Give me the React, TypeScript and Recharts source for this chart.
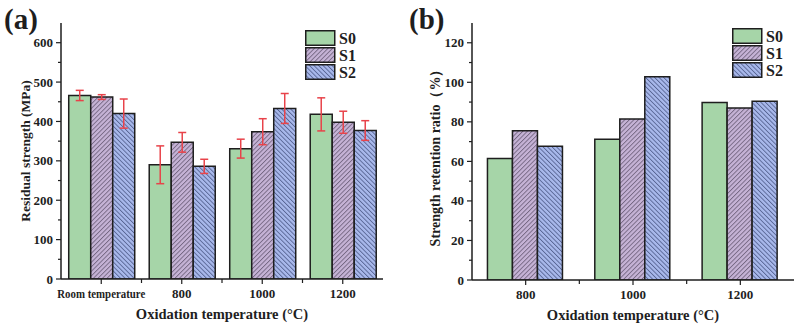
import React from 'react';
import { BarChart, Bar, XAxis, YAxis, ErrorBar, Legend } from 'recharts';

const categoriesA = ['Room temperature', '800', '1000', '1200'];
const s0A = [466, 290, 331, 418];
const s1A = [462, 347, 374, 398];
const s2A = [420, 286, 433, 377];
const e0A = [13, 48, 24, 42];
const e1A = [6, 25, 33, 28];
const e2A = [37, 18, 38, 25];
const ticksA = [0, 50, 100, 150, 200, 250, 300, 350, 400, 450, 500, 550, 600];

const categoriesB = ['800', '1000', '1200'];
const s0B = [61.5, 71.2, 89.8];
const s1B = [75.5, 81.4, 87.0];
const s2B = [67.7, 102.8, 90.4];
const ticksB = [0, 10, 20, 30, 40, 50, 60, 70, 80, 90, 100, 110, 120];

const seriesNames = ['S0', 'S1', 'S2'];

const dataA = categoriesA.map((c, i) => ({ cat: c, s0: s0A[i], s1: s1A[i], s2: s2A[i], e0: e0A[i], e1: e1A[i], e2: e2A[i] }));
const dataB = categoriesB.map((c, i) => ({ cat: c, s0: s0B[i], s1: s1B[i], s2: s2B[i] }));

const FONT = '"Liberation Serif", "Times New Roman", serif';
const INK = '#1e1e1e';
const C0 = '#a6d5a8';
const C1 = '#c6b3d6';
const C2 = '#a9b9ec';
const FILLS = [C0, 'url(#hatchS1)', 'url(#hatchS2)'];

const makeYTick = (major: number) => (props: any) => {
  const { x, y, payload } = props;
  const v = payload.value;
  const isMajor = v % major === 0;
  return (
    <g>
      <line x1={x} x2={x - (isMajor ? 5 : 3)} y1={y} y2={y} stroke={INK} strokeWidth={1.2} />
      {isMajor && (
        <text x={x - 8} y={y} dy="0.35em" textAnchor="end" fontFamily={FONT} fontWeight="bold" fontSize={13} fill={INK}>
          {v}
        </text>
      )}
    </g>
  );
};

const makeXTick = (band: number) => (props: any) => {
  const { x, y, payload, index } = props;
  const label = String(payload.value);
  const long = label.length > 6;
  return (
    <g>
      <line x1={x} x2={x} y1={y} y2={y + 5} stroke={INK} strokeWidth={1.2} />
      {index > 0 && <line x1={x - band / 2} x2={x - band / 2} y1={y} y2={y + 4} stroke={INK} strokeWidth={1.2} />}
      <text
        x={x}
        y={y + 14}
        dy="0.35em"
        textAnchor="middle"
        fontFamily={FONT}
        fontWeight="bold"
        fontSize={13}
        fill={INK}
        {...(long ? { textLength: 88, lengthAdjust: 'spacingAndGlyphs' } : {})}
      >
        {label}
      </text>
    </g>
  );
};

const YTitle = (props: any) => {
  const { viewBox, text, cx, cy, size } = props;
  const x = viewBox.x + cx;
  const y = viewBox.y + viewBox.height / 2 + (cy || 0);
  return (
    <text x={x} y={y} dy="0.35em" textAnchor="middle" transform={`rotate(-90, ${x}, ${y})`} fontFamily={FONT} fontWeight="bold" fontSize={size} fill={INK}>
      {text}
    </text>
  );
};

const XTitle = (props: any) => {
  const { viewBox, text } = props;
  const x = viewBox.x + viewBox.width / 2;
  const y = viewBox.y + 35;
  return (
    <text x={x} y={y} dy="0.35em" textAnchor="middle" fontFamily={FONT} fontWeight="bold" fontSize={14.5} fill={INK}>
      {text}
    </text>
  );
};

const LegendBox = () => (
  <svg width={62} height={52} style={{ display: 'block', overflow: 'visible' }}>
    {seriesNames.map((n, i) => (
      <g key={n}>
        <rect x={0.75} y={i * 17 + 0.75} width={29} height={14.5} fill={FILLS[i]} stroke={INK} strokeWidth={1.5} />
        <text x={34} y={i * 17 + 8} dy="0.35em" fontFamily={FONT} fontWeight="bold" fontSize={16} fill={INK}>
          {n}
        </text>
      </g>
    ))}
  </svg>
);

const Patterns = () => (
  <svg width={0} height={0} style={{ position: 'absolute', left: 0, top: 0 }}>
    <defs>
      <pattern id="hatchS1" patternUnits="userSpaceOnUse" width={3.2} height={3.2} patternTransform="rotate(45)">
        <rect x={0} y={0} width={3.2} height={3.2} fill={C1} />
        <line x1={0.5} y1={0} x2={0.5} y2={3.2} stroke="#5c4f68" strokeWidth={0.7} />
      </pattern>
      <pattern id="hatchS2" patternUnits="userSpaceOnUse" width={3.2} height={3.2} patternTransform="rotate(-45)">
        <rect x={0} y={0} width={3.2} height={3.2} fill={C2} />
        <line x1={0.5} y1={0} x2={0.5} y2={3.2} stroke="#3e4a78" strokeWidth={0.7} />
      </pattern>
    </defs>
  </svg>
);

const errColor = '#e8434a';

export default function App() {
  const bandA = 322 / categoriesA.length;
  const bandB = 322 / categoriesB.length;
  return (
    <div style={{ position: 'absolute', left: 0, top: 0, width: 800, height: 327, background: '#fff', fontFamily: FONT }}>
      <Patterns />
      <div style={{ position: 'absolute', left: 4, top: 2, fontFamily: FONT, fontWeight: 'bold', fontSize: 29, color: INK, lineHeight: '34px' }}>(a)</div>
      <div style={{ position: 'absolute', left: 409, top: 2, fontFamily: FONT, fontWeight: 'bold', fontSize: 29, color: INK, lineHeight: '34px' }}>(b)</div>

      <div style={{ position: 'absolute', left: 0, top: 0 }}>
        <BarChart width={400} height={327} data={dataA} margin={{ top: 23, right: 17, bottom: 8, left: 0 }} barCategoryGap="9.6%" barGap={0}>
          <XAxis dataKey="cat" height={40} tickSize={0} tickMargin={0} interval={0} tickLine={false} axisLine={{ stroke: INK, strokeWidth: 1.5 }} tick={makeXTick(bandA)} label={<XTitle text="Oxidation temperature (°C)" />} />
          <XAxis xAxisId="top" orientation="top" dataKey="cat" height={0} tick={false} tickLine={false} axisLine={{ stroke: INK, strokeWidth: 1.5 }} />
          <YAxis width={61} domain={[0, 650]} ticks={ticksA} interval={0} tickSize={0} tickMargin={0} tickLine={false} allowDataOverflow axisLine={{ stroke: INK, strokeWidth: 1.5 }} tick={makeYTick(100)} label={<YTitle text="Residual strength (MPa)" cx={25} size={13.5} />} />
          <YAxis yAxisId="right" orientation="right" width={0} domain={[0, 650]} tick={false} tickLine={false} axisLine={{ stroke: INK, strokeWidth: 1.5 }} />
          <Legend layout="vertical" align="center" verticalAlign="middle" wrapperStyle={{ left: 305, top: 30, width: 62, height: 52 }} content={<LegendBox />} />
          <Bar dataKey="s0" name="S0" fill={FILLS[0]} stroke={INK} strokeWidth={1.5} isAnimationActive={false}>
            <ErrorBar dataKey="e0" width={4} stroke={errColor} strokeWidth={1.5} direction="y" />
          </Bar>
          <Bar dataKey="s1" name="S1" fill={FILLS[1]} stroke={INK} strokeWidth={1.5} isAnimationActive={false}>
            <ErrorBar dataKey="e1" width={4} stroke={errColor} strokeWidth={1.5} direction="y" />
          </Bar>
          <Bar dataKey="s2" name="S2" fill={FILLS[2]} stroke={INK} strokeWidth={1.5} isAnimationActive={false}>
            <ErrorBar dataKey="e2" width={4} stroke={errColor} strokeWidth={1.5} direction="y" />
          </Bar>
        </BarChart>
      </div>

      <div style={{ position: 'absolute', left: 400, top: 0 }}>
        <BarChart width={400} height={327} data={dataB} margin={{ top: 23, right: 6, bottom: 7, left: 0 }} barCategoryGap="14.4%" barGap={0}>
          <XAxis dataKey="cat" height={40} tickSize={0} tickMargin={0} interval={0} tickLine={false} axisLine={{ stroke: INK, strokeWidth: 1.5 }} tick={makeXTick(bandB)} label={<XTitle text="Oxidation temperature (°C)" />} />
          <XAxis xAxisId="top" orientation="top" dataKey="cat" height={0} tick={false} tickLine={false} axisLine={{ stroke: INK, strokeWidth: 1.5 }} />
          <YAxis width={72} domain={[0, 130]} ticks={ticksB} interval={0} tickSize={0} tickMargin={0} tickLine={false} allowDataOverflow axisLine={{ stroke: INK, strokeWidth: 1.5 }} tick={makeYTick(20)} label={<YTitle text="Strength retention ratio（%）" cx={35} cy={3} size={14} />} />
          <YAxis yAxisId="right" orientation="right" width={0} domain={[0, 130]} tick={false} tickLine={false} axisLine={{ stroke: INK, strokeWidth: 1.5 }} />
          <Legend layout="vertical" align="center" verticalAlign="middle" wrapperStyle={{ left: 332, top: 28, width: 62, height: 52 }} content={<LegendBox />} />
          <Bar dataKey="s0" name="S0" fill={FILLS[0]} stroke={INK} strokeWidth={1.5} isAnimationActive={false} />
          <Bar dataKey="s1" name="S1" fill={FILLS[1]} stroke={INK} strokeWidth={1.5} isAnimationActive={false} />
          <Bar dataKey="s2" name="S2" fill={FILLS[2]} stroke={INK} strokeWidth={1.5} isAnimationActive={false} />
        </BarChart>
      </div>
    </div>
  );
}
